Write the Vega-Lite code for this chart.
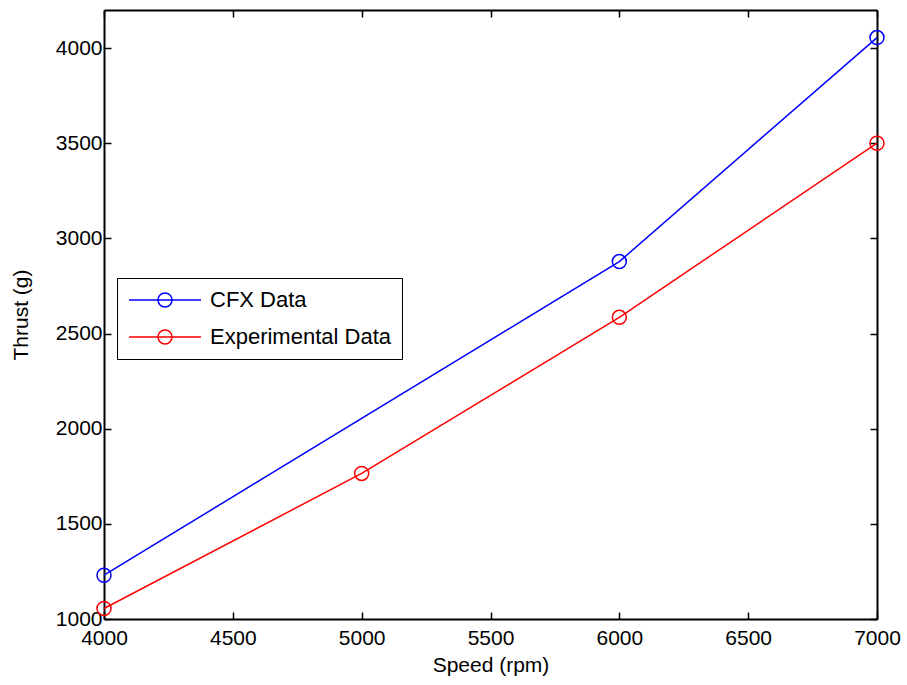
{
  "$schema": "https://vega.github.io/schema/vega-lite/v6.json",
  "width": 773,
  "height": 609,
  "autosize": {"type": "none"},
  "padding": {"left": 104, "top": 10, "right": 30, "bottom": 66},
  "background": "white",
  "config": {
    "font": "Liberation Sans",
    "view": {"stroke": null},
    "axis": {
      "domainColor": "black", "domainWidth": 2, "tickColor": "black", "tickWidth": 1.5,
      "tickSize": -7, "grid": false, "labelColor": "black", "labelFontSize": 21,
      "labelFlush": false, "labelOverlap": false, "format": "d",
      "titleColor": "black", "titleFontSize": 21, "titleFontWeight": "normal"
    }
  },
  "data": {
    "values": [
      {"speed": 4000, "thrust": 1230, "series": "CFX Data"},
      {"speed": 6000, "thrust": 2878, "series": "CFX Data"},
      {"speed": 7000, "thrust": 4055, "series": "CFX Data"},
      {"speed": 4000, "thrust": 1055, "series": "Experimental Data"},
      {"speed": 5000, "thrust": 1765, "series": "Experimental Data"},
      {"speed": 6000, "thrust": 2585, "series": "Experimental Data"},
      {"speed": 7000, "thrust": 3500, "series": "Experimental Data"}
    ]
  },
  "encoding": {
    "x": {"field": "speed", "type": "quantitative", "scale": {"domain": [4000, 7000], "nice": false, "zero": false}},
    "y": {"field": "thrust", "type": "quantitative", "scale": {"domain": [1000, 4200], "nice": false, "zero": false}},
    "color": {
      "field": "series", "type": "nominal",
      "scale": {"domain": ["CFX Data", "Experimental Data"], "range": ["#0000ff", "#ff0000"]},
      "legend": {
        "title": null, "orient": "none", "legendX": 13, "legendY": 268,
        "symbolType": "M-1,0H6.2M3.3,0A0.7,0.7 0 1,1 1.9,0A0.7,0.7 0 1,1 3.3,0",
        "symbolSize": 400, "symbolStrokeWidth": 1.5, "symbolFillColor": "transparent",
        "labelFontSize": 22, "labelColor": "black", "labelOffset": 60, "labelLimit": 0, "rowPadding": 15,
        "padding": 11, "strokeColor": "black", "fillColor": "white"
      }
    }
  },
  "layer": [
    {
      "mark": {"type": "line", "strokeWidth": 1.5},
      "encoding": {
        "x": {"field": "speed", "type": "quantitative", "axis": {"orient": "bottom", "title": "Speed (rpm)", "values": [4000, 4500, 5000, 5500, 6000, 6500, 7000], "labelPadding": 15, "titlePadding": 6}},
        "y": {"field": "thrust", "type": "quantitative", "axis": {"orient": "left", "title": "Thrust (g)", "values": [1000, 1500, 2000, 2500, 3000, 3500, 4000], "labelPadding": 9, "titlePadding": 24}}
      }
    },
    {
      "mark": {"type": "point", "shape": "circle", "filled": false, "size": 196, "strokeWidth": 1.5, "opacity": 1},
      "encoding": {
        "x": {"field": "speed", "type": "quantitative", "axis": {"orient": "top", "title": null, "labels": false, "values": [4000, 4500, 5000, 5500, 6000, 6500, 7000]}},
        "y": {"field": "thrust", "type": "quantitative", "axis": {"orient": "right", "title": null, "labels": false, "values": [1000, 1500, 2000, 2500, 3000, 3500, 4000]}}
      }
    }
  ]
}
